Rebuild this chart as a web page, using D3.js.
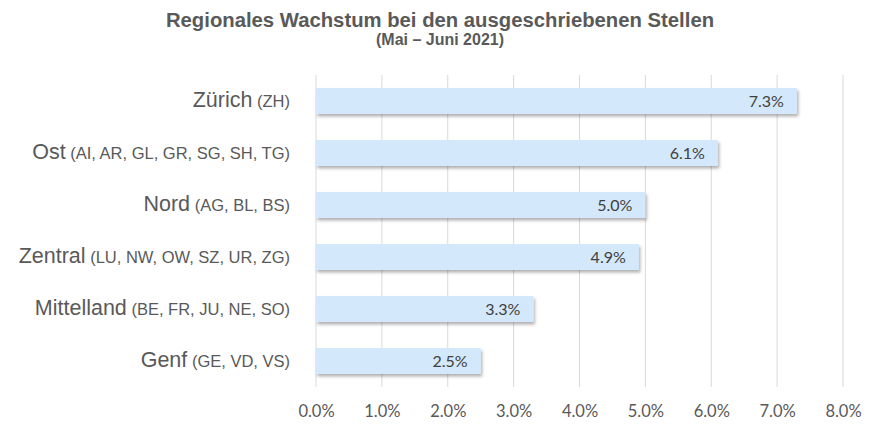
<!DOCTYPE html>
<html>
<head>
<meta charset="utf-8">
<script src="https://cdn.jsdelivr.net/npm/d3@7"></script>
<style>
  body { margin: 0; background: #fff; }
  svg { display: block; }
</style>
</head>
<body>
<svg id="chart" width="874" height="431"></svg>
<script>
var regions = ['Zürich', 'Ost', 'Nord', 'Zentral', 'Mittelland', 'Genf'];
var cantons = ['(ZH)', '(AI, AR, GL, GR, SG, SH, TG)', '(AG, BL, BS)', '(LU, NW, OW, SZ, UR, ZG)', '(BE, FR, JU, NE, SO)', '(GE, VD, VS)'];
var growth = [7.3, 6.1, 5.0, 4.9, 3.3, 2.5];
var xTicks = [0, 1, 2, 3, 4, 5, 6, 7, 8];

var sans = '"Liberation Sans", Arial, sans-serif';
var calib = 'Lato, "Open Sans", sans-serif';
var svg = d3.select('#chart');

var margin = { top: 75, right: 31, bottom: 44, left: 316 };
var width = 874 - margin.left - margin.right;
var height = 431 - margin.top - margin.bottom;

var x = d3.scaleLinear().domain([0, 8]).range([0, width]);
var y = d3.scaleBand().domain(regions).range([0, height]).paddingInner(0.5).paddingOuter(0.25);

// soft shadow under bars
var defs = svg.append('defs');
var filter = defs.append('filter').attr('id', 'shadow')
  .attr('x', '-5%').attr('y', '-30%').attr('width', '115%').attr('height', '180%');
filter.append('feDropShadow')
  .attr('dx', 1.5).attr('dy', 2.5).attr('stdDeviation', 1.5)
  .attr('flood-color', '#000').attr('flood-opacity', 0.3);

// title
svg.append('text')
  .attr('x', 440).attr('y', 27)
  .attr('text-anchor', 'middle')
  .attr('font-family', sans)
  .attr('font-weight', 'bold')
  .attr('font-size', 20.3)
  .attr('fill', '#595959')
  .text('Regionales Wachstum bei den ausgeschriebenen Stellen');
svg.append('text')
  .attr('x', 440).attr('y', 45)
  .attr('text-anchor', 'middle')
  .attr('font-family', sans)
  .attr('font-weight', 'bold')
  .attr('font-size', 16)
  .attr('fill', '#595959')
  .text('(Mai – Juni 2021)');

var g = svg.append('g').attr('transform', 'translate(' + margin.left + ',' + margin.top + ')');

// gridlines
g.selectAll('.grid')
  .data(xTicks)
  .enter().append('line')
  .attr('class', 'grid')
  .attr('x1', function (d) { return x(d); })
  .attr('x2', function (d) { return x(d); })
  .attr('y1', 0)
  .attr('y2', height)
  .attr('stroke', '#d9d9d9')
  .attr('stroke-width', 1);

// x axis labels
var xAxis = d3.axisBottom(x)
  .tickValues(xTicks)
  .tickSize(0)
  .tickPadding(18)
  .tickFormat(function (d) { return d.toFixed(1) + '%'; });
var xg = g.append('g').attr('transform', 'translate(0,' + height + ')').call(xAxis);
xg.select('.domain').remove();
xg.selectAll('text')
  .attr('font-family', calib)
  .attr('font-size', 16.5)
  .attr('fill', '#595959');

// bars
g.selectAll('.bar')
  .data(growth)
  .enter().append('rect')
  .attr('class', 'bar')
  .attr('x', 0)
  .attr('y', function (d, i) { return y(regions[i]); })
  .attr('width', function (d) { return x(d); })
  .attr('height', y.bandwidth())
  .attr('fill', '#d4e8fb')
  .attr('filter', 'url(#shadow)');

// value labels
g.selectAll('.value')
  .data(growth)
  .enter().append('text')
  .attr('class', 'value')
  .attr('x', function (d) { return x(d) - 13; })
  .attr('y', function (d, i) { return y(regions[i]) + y.bandwidth() / 2; })
  .attr('dy', '0.35em')
  .attr('text-anchor', 'end')
  .attr('font-family', calib)
  .attr('font-size', 16)
  .attr('fill', '#404040')
  .text(function (d) { return d.toFixed(1) + '%'; });

// category labels
var labels = g.selectAll('.cat')
  .data(regions)
  .enter().append('text')
  .attr('class', 'cat')
  .attr('x', -26)
  .attr('y', function (d) { return y(d) + y.bandwidth() / 2; })
  .attr('dy', '0.35em')
  .attr('text-anchor', 'end')
  .attr('font-family', sans)
  .attr('fill', '#595959');
labels.append('tspan')
  .attr('font-size', 21.5)
  .text(function (d) { return d; });
labels.append('tspan')
  .attr('font-size', 16.5)
  .text(function (d, i) { return ' ' + cantons[i]; });
</script>
</body>
</html>
